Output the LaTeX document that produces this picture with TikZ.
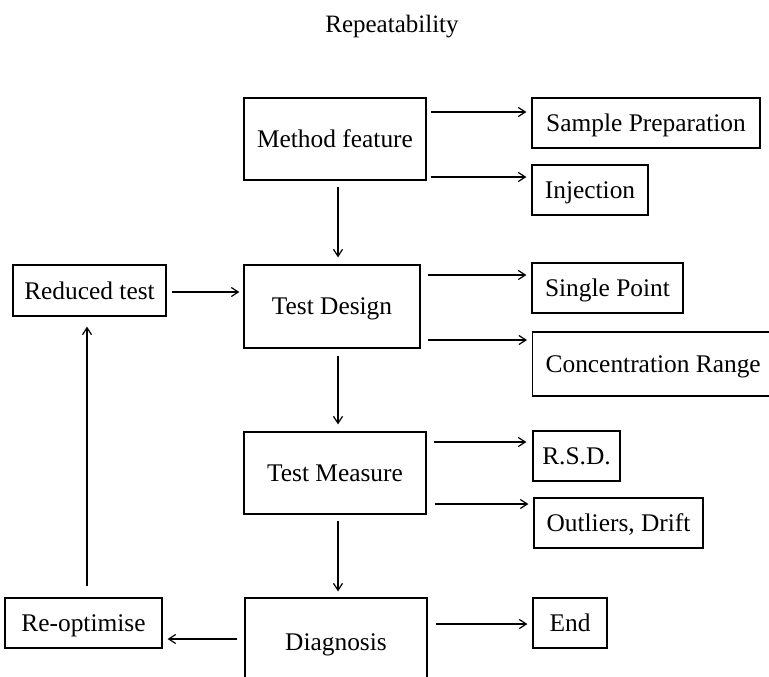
\documentclass[tikz,border=0pt]{standalone}
\usepackage{fontspec}
\setmainfont{Liberation Serif}
\usetikzlibrary{arrows.meta}
\begin{document}
\begin{tikzpicture}[x=0.5pt,y=-0.5pt,
  box/.style={draw,line width=0.6pt,inner sep=0pt,text depth=0pt,font=\fontsize{12.7}{14}\selectfont},
  arr/.style={line width=0.6pt,-{Straight Barb[length=3.5pt,width=4.5pt]}},
  ln/.style={line width=0.6pt}]
\useasboundingbox (0,0) rectangle (769,676);
\clip (0,0) rectangle (769,676);
\node[font=\fontsize{12.5}{14}\selectfont] (title) at (392,27) {Repeatability};
% main column
\node[box,minimum width=91pt,minimum height=41pt] (method) at (335,139) {Method feature};
\node[box,minimum width=88pt,minimum height=41.5pt] (design) at (332,306.5) {Test Design};
\node[box,minimum width=91pt,minimum height=41pt] (measure) at (335,473) {Test Measure};
\node[box,minimum width=91pt,minimum height=44pt] (diag) at (336,642) {Diagnosis};
% left column
\node[box,minimum width=76.5pt,minimum height=25.5pt] (reduced) at (89.5,290.5) {Reduced test};
\node[box,minimum width=78.5pt,minimum height=25pt] (reopt) at (83.5,623) {Re-optimise};
% right column
\node[box,minimum width=114pt,minimum height=25pt] (sample) at (646,123) {Sample Preparation};
\node[box,minimum width=58pt,minimum height=25pt] (inject) at (590,190) {Injection};
\node[box,minimum width=75.5pt,minimum height=25pt] (single) at (607.5,288) {Single Point};
\node[box,anchor=west,minimum height=32pt,inner xsep=6.5pt] (conc) at (532,364) {\makebox[108.5pt][l]{Concentration Range}};
\node[box,minimum width=43.5pt,minimum height=25pt] (rsd) at (576.5,456) {R.S.D.};
\node[box,minimum width=84.5pt,minimum height=25pt] (outl) at (618.5,523) {Outliers, Drift};
\node[box,minimum width=37pt,minimum height=25pt] (end) at (570,623) {End};
% right arrows
\draw[arr,shorten <=2pt,shorten >=2.5pt] (method.east |- 0,112) -- (sample.west |- 0,112);
\draw[arr,shorten <=2pt,shorten >=2.5pt] (method.east |- 0,177) -- (inject.west |- 0,177);
\draw[arr,shorten <=3.5pt,shorten >=2.5pt] (design.east |- 0,275) -- (single.west |- 0,275);
\draw[arr,shorten <=3.5pt,shorten >=2.5pt] (design.east |- 0,340) -- (conc.west |- 0,340);
\draw[arr,shorten <=3.5pt,shorten >=3pt] (measure.east |- 0,442) -- (rsd.west |- 0,442);
\draw[arr,shorten <=4pt,shorten >=2.5pt] (measure.east |- 0,504) -- (outl.west |- 0,504);
\draw[arr,shorten <=4pt,shorten >=2.5pt] (diag.east |- 0,624) -- (end.west |- 0,624);
% vertical arrows
\draw[arr,shorten <=3pt,shorten >=3.5pt] (method.south -| 338,0) -- (design.north -| 338,0);
\draw[arr,shorten <=3.5pt,shorten >=3.5pt] (design.south -| 338,0) -- (measure.north -| 338,0);
\draw[arr,shorten <=3pt,shorten >=3pt] (measure.south -| 338,0) -- (diag.north -| 338,0);
% left loop
\draw[arr,shorten <=3.5pt,shorten >=2.5pt] (diag.west |- 0,639) -- (reopt.east |- 0,639);
\draw[arr,shorten <=5.5pt,shorten >=5pt] (reopt.north -| 87,0) -- (reduced.south -| 87,0);
\draw[arr,shorten <=2.5pt,shorten >=2pt] (reduced.east |- 0,292) -- (design.west |- 0,292);
\end{tikzpicture}
\end{document}
